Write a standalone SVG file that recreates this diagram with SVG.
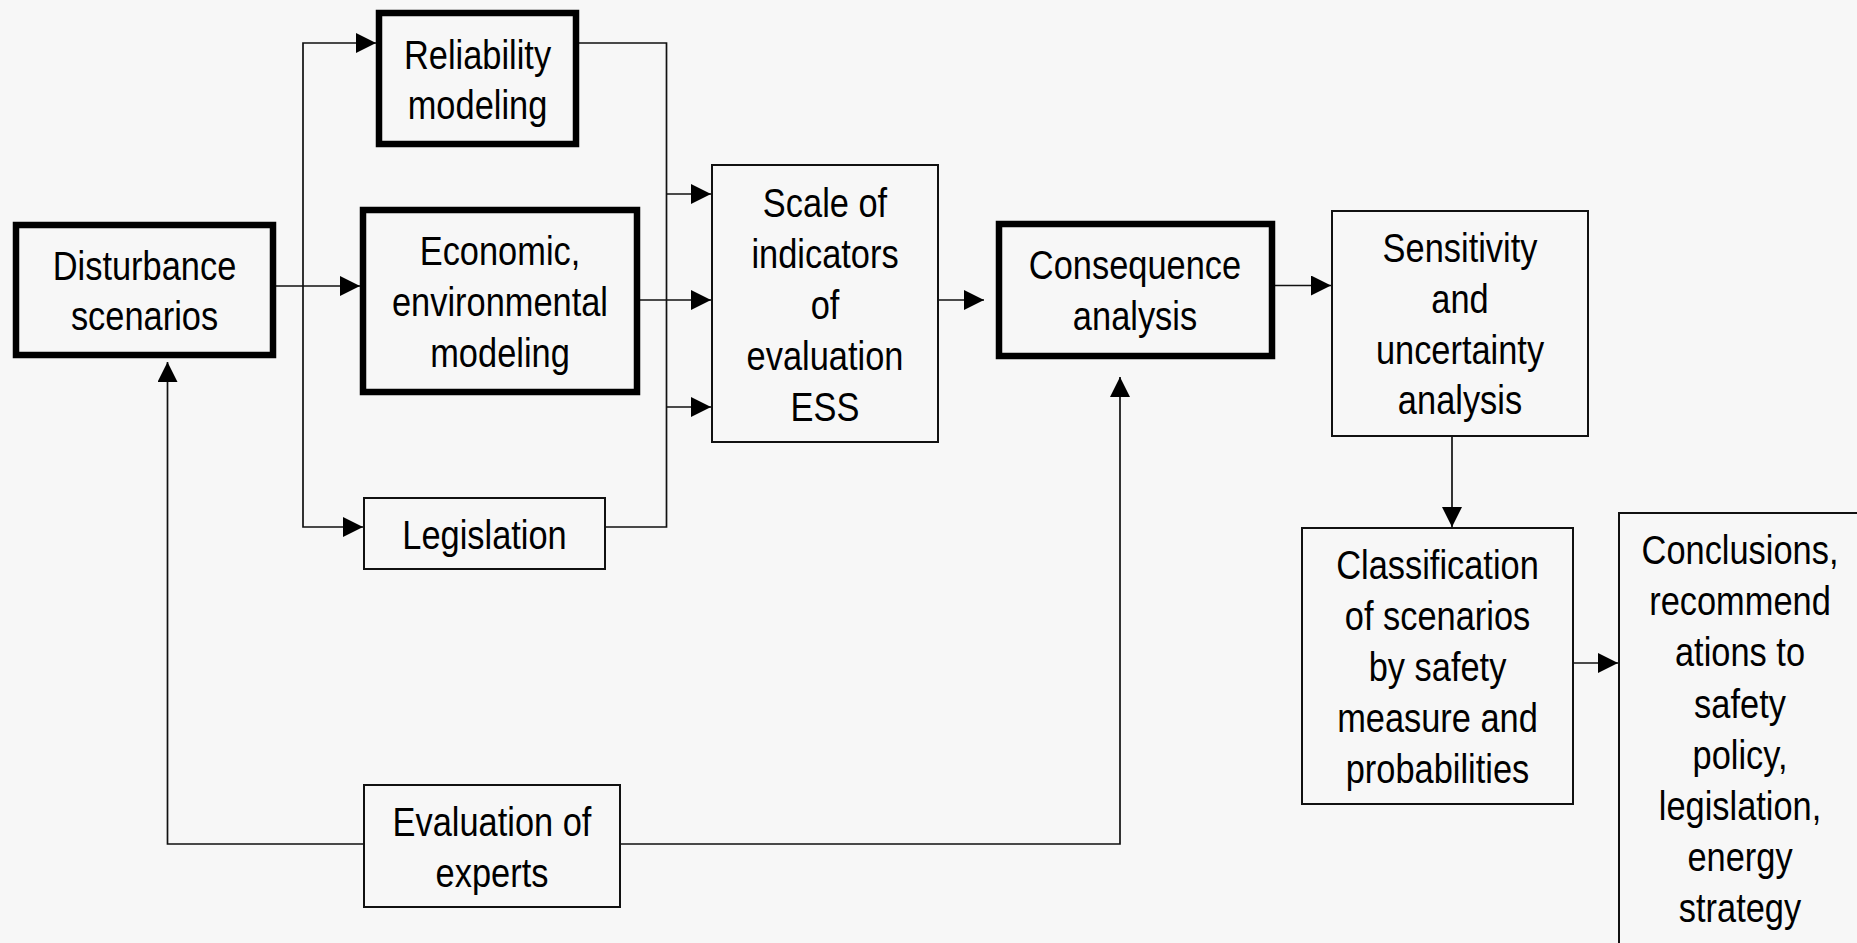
<svg xmlns="http://www.w3.org/2000/svg" width="1857" height="943" viewBox="0 0 1857 943">
<defs>
<style>
.bg{fill:#f7f7f7}
.thick{fill:#f7f7f7;stroke:#000;stroke-width:6.5}
.thin{fill:#f7f7f7;stroke:#111;stroke-width:2}
.c{fill:none;stroke:#111;stroke-width:1.7}
.t{font-family:"Liberation Sans",Arial,sans-serif;font-size:40px;fill:#000;text-anchor:middle}
</style>
<marker id="ah" markerUnits="userSpaceOnUse" markerWidth="20" markerHeight="20" refX="20" refY="10" orient="auto">
<path d="M0,0 L20,10 L0,20 z" fill="#000"/>
</marker>
</defs>
<rect class="bg" x="0" y="0" width="1857" height="943"/>

<g id="connectors">
<path class="c" d="M276,286 H360" marker-end="url(#ah)"/>
<path class="c" d="M303,286 V43 H376" marker-end="url(#ah)"/>
<path class="c" d="M303,286 V527 H363" marker-end="url(#ah)"/>
<path class="c" d="M579,43 H666.5 V527 H606"/>
<path class="c" d="M666.5,194 H711" marker-end="url(#ah)"/>
<path class="c" d="M640,300 H711" marker-end="url(#ah)"/>
<path class="c" d="M666.5,407 H711" marker-end="url(#ah)"/>
<path class="c" d="M939,300 H984" marker-end="url(#ah)"/>
<path class="c" d="M1275,285.5 H1331" marker-end="url(#ah)"/>
<path class="c" d="M1452,437 V527" marker-end="url(#ah)"/>
<path class="c" d="M1574,663 H1618" marker-end="url(#ah)"/>
<path class="c" d="M363,844 H167.5 V362" marker-end="url(#ah)"/>
<path class="c" d="M621,844 H1120 V377" marker-end="url(#ah)"/>
</g>

<g id="disturbance">
<rect class="thick" x="16" y="225" width="257" height="130"/>
<text class="t" transform="translate(144.5,280) scale(0.86,1)"><tspan x="0">Disturbance</tspan><tspan x="0" dy="50">scenarios</tspan></text>
</g>

<g id="reliability">
<rect class="thick" x="379" y="13" width="197" height="131"/>
<text class="t" transform="translate(477.5,69) scale(0.86,1)"><tspan x="0">Reliability</tspan><tspan x="0" dy="50">modeling</tspan></text>
</g>

<g id="economic">
<rect class="thick" x="363" y="210" width="274" height="182"/>
<text class="t" transform="translate(500,265) scale(0.86,1)"><tspan x="0">Economic,</tspan><tspan x="0" dy="51">environmental</tspan><tspan x="0" dy="51">modeling</tspan></text>
</g>

<g id="legislation">
<rect class="thin" x="364" y="498" width="241" height="71"/>
<text class="t" transform="translate(484.5,549) scale(0.86,1)"><tspan x="0">Legislation</tspan></text>
</g>

<g id="scale">
<rect class="thin" x="712" y="165" width="226" height="277"/>
<text class="t" transform="translate(825,217) scale(0.86,1)"><tspan x="0">Scale of</tspan><tspan x="0" dy="51">indicators</tspan><tspan x="0" dy="51">of</tspan><tspan x="0" dy="51">evaluation</tspan><tspan x="0" dy="51">ESS</tspan></text>
</g>

<g id="consequence">
<rect class="thick" x="999" y="224" width="273" height="132"/>
<text class="t" transform="translate(1135,279) scale(0.86,1)"><tspan x="0">Consequence</tspan><tspan x="0" dy="51">analysis</tspan></text>
</g>

<g id="sensitivity">
<rect class="thin" x="1332" y="211" width="256" height="225"/>
<text class="t" transform="translate(1460,262) scale(0.86,1)"><tspan x="0">Sensitivity</tspan><tspan x="0" dy="51">and</tspan><tspan x="0" dy="51">uncertainty</tspan><tspan x="0" dy="50.5">analysis</tspan></text>
</g>

<g id="classification">
<rect class="thin" x="1302" y="528" width="271" height="276"/>
<text class="t" transform="translate(1437.5,579) scale(0.86,1)"><tspan x="0">Classification</tspan><tspan x="0" dy="51">of scenarios</tspan><tspan x="0" dy="51">by safety</tspan><tspan x="0" dy="51">measure and</tspan><tspan x="0" dy="51">probabilities</tspan></text>
</g>

<g id="conclusions">
<rect class="thin" x="1619" y="513" width="300" height="500"/>
<text class="t" transform="translate(1740,564) scale(0.86,1)"><tspan x="0">Conclusions,</tspan><tspan x="0" dy="51.2">recommend</tspan><tspan x="0" dy="51.2">ations to</tspan><tspan x="0" dy="51.2">safety</tspan><tspan x="0" dy="51.2">policy,</tspan><tspan x="0" dy="51.2">legislation,</tspan><tspan x="0" dy="51.2">energy</tspan><tspan x="0" dy="51.2">strategy</tspan></text>
</g>

<g id="evaluation">
<rect class="thin" x="364" y="785" width="256" height="122"/>
<text class="t" transform="translate(492,836) scale(0.86,1)"><tspan x="0">Evaluation of</tspan><tspan x="0" dy="51">experts</tspan></text>
</g>
</svg>
